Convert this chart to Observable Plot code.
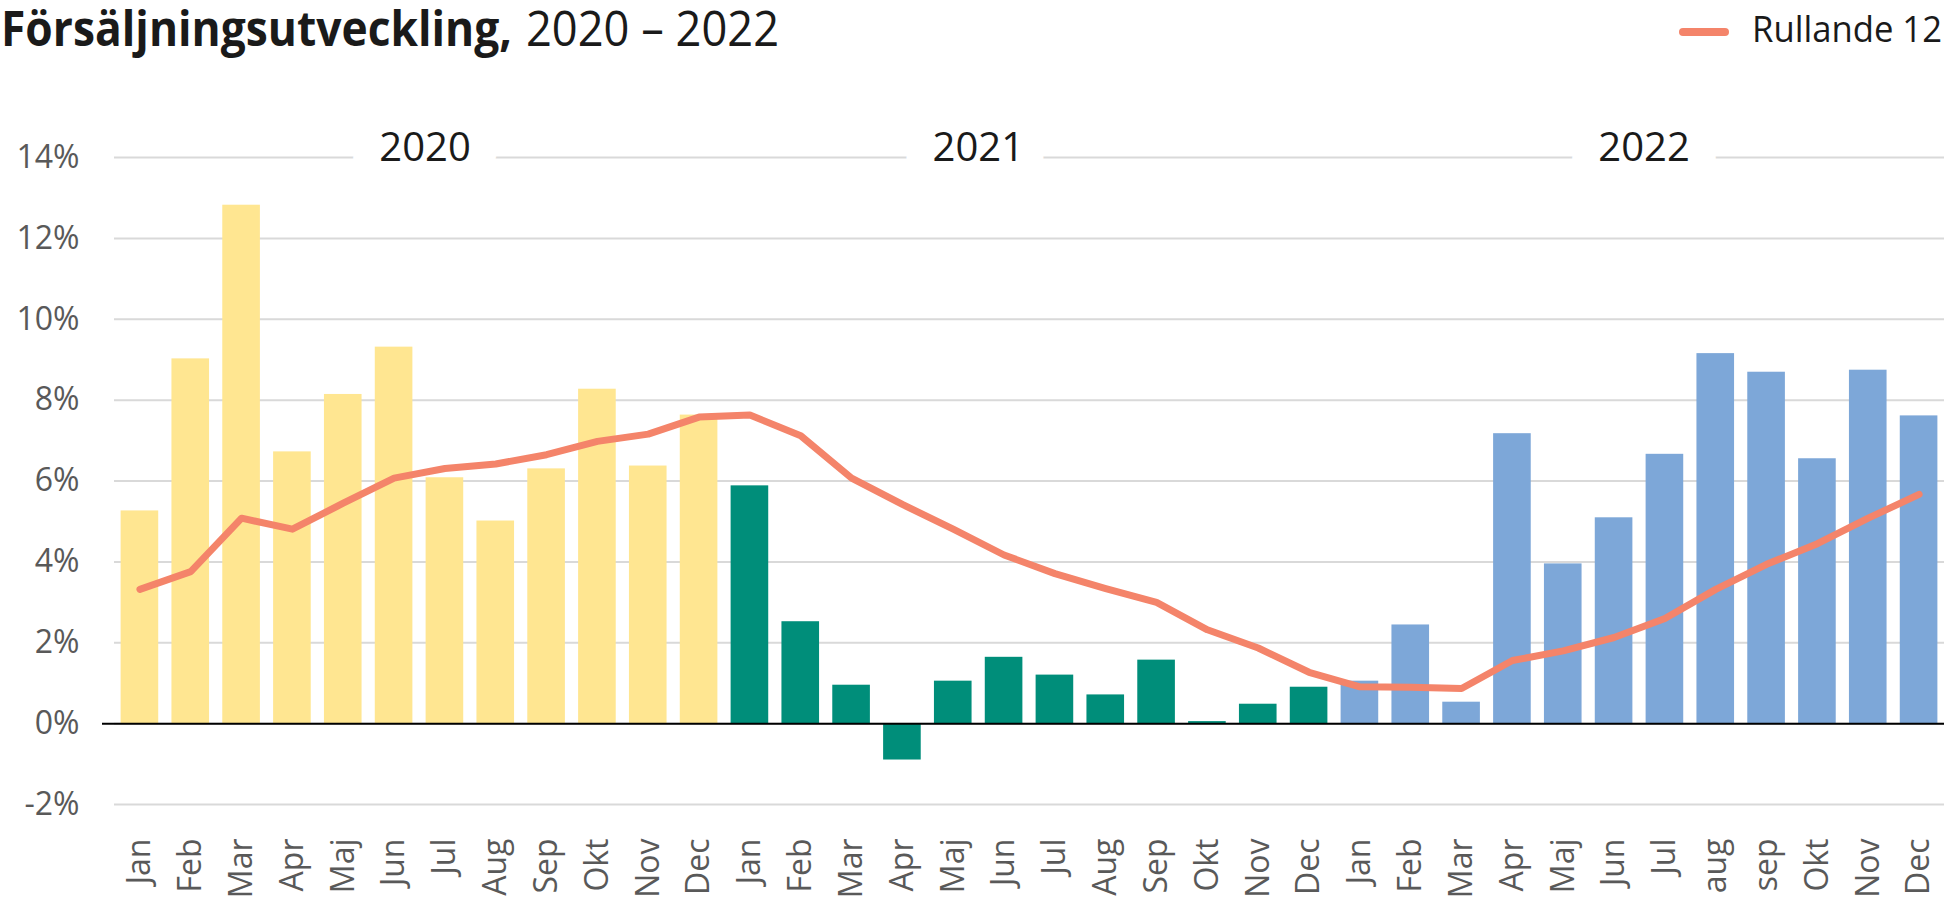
<!DOCTYPE html>
<html>
<head>
<meta charset="utf-8">
<script src="https://cdn.jsdelivr.net/npm/d3@7"></script>
<script src="https://cdn.jsdelivr.net/npm/@observablehq/plot@0.6"></script>
<style>
  html, body { margin: 0; padding: 0; background: #fff; overflow: hidden; }
  #wrap { position: relative; width: 1947px; height: 897px; font-family: "Open Sans", sans-serif; }
  #header { position: relative; height: 70px; width: 1947px; }
  .t { position: absolute; white-space: nowrap; transform-origin: 0 0; line-height: 1; }
  #tb { left: 1px; top: 3px; font-size: 49px; font-weight: 700; color: #1a1a1a; }
  #tr { left: 526px; top: 3px; font-size: 49px; font-weight: 400; color: #1a1a1a; }
  #sw { position: absolute; left: 1679px; top: 28px; width: 50px; height: 8px; border-radius: 4px; background: #F4846A; }
  #lt { left: 1752px; top: 11px; font-size: 36px; color: #1a1a1a; }
  #chart svg { display: block; }
</style>
</head>
<body>
<div id="wrap">
  <div id="header">
    <div class="t" id="tb">Försäljningsutveckling,</div>
    <div class="t" id="tr">2020 – 2022</div>
    <div id="sw"></div>
    <div class="t" id="lt">Rullande 12</div>
  </div>
  <div id="chart"></div>
</div>
<script>
// ---- Data ----
const years = ["2020", "2021", "2022"];
const months2020 = ["Jan","Feb","Mar","Apr","Maj","Jun","Jul","Aug","Sep","Okt","Nov","Dec"];
const months2021 = ["Jan","Feb","Mar","Apr","Maj","Jun","Jul","Aug","Sep","Okt","Nov","Dec"];
const months2022 = ["Jan","Feb","Mar","Apr","Maj","Jun","Jul","aug","sep","Okt","Nov","Dec"];
const bars2020 = [5.26, 9.02, 12.82, 6.72, 8.14, 9.31, 6.08, 5.01, 6.30, 8.27, 6.37, 7.63];
const bars2021 = [5.88, 2.52, 0.95, -0.90, 1.05, 1.64, 1.20, 0.71, 1.57, 0.05, 0.48, 0.90];
const bars2022 = [1.05, 2.44, 0.53, 7.17, 3.95, 5.09, 6.66, 9.15, 8.69, 6.55, 8.74, 7.61];
const rolling12 = [3.32, 3.76, 5.08, 4.81, 5.45, 6.07, 6.31, 6.42, 6.65, 6.98, 7.16, 7.58,
                   7.63, 7.12, 6.07, 5.42, 4.81, 4.17, 3.71, 3.34, 3.00, 2.32, 1.87, 1.27,
                   0.91, 0.90, 0.87, 1.56, 1.80, 2.13, 2.60, 3.32, 3.94, 4.45, 5.08, 5.67];
const yTicks = [-2, 0, 2, 4, 6, 8, 10, 12, 14];
const yearColors = ["#FFE691", "#008E7A", "#7DA7D8"];
const lineLabel = "Rullande 12";

// ---- Table ----
const monthsByYear = [months2020, months2021, months2022];
const barsByYear = [bars2020, bars2021, bars2022];
const data = [];
years.forEach((yr, yi) => {
  monthsByYear[yi].forEach((m, mi) => {
    data.push({key: yr + "-" + mi, month: m, year: yr, value: barsByYear[yi][mi], roll: rolling12[yi * 12 + mi]});
  });
});
const keys = data.map(d => d.key);
const labelOf = Object.fromEntries(data.map(d => [d.key, d.month]));

// year label layout (anchor month + pixel offset)
const yearLayout = [
  {year: "2020", key: "2020-5", dx: 31},
  {year: "2021", key: "2021-4", dx: 25},
  {year: "2022", key: "2022-5", dx: 30}
];

const font = '"Open Sans", sans-serif';
const chart = Plot.plot({
  width: 1947,
  height: 827,
  marginTop: 87,
  marginBottom: 93,
  marginLeft: 114,
  marginRight: 3,
  style: {fontFamily: font, background: "white", overflow: "visible"},
  x: {type: "band", domain: keys, paddingInner: 0.26, paddingOuter: 0.13, align: 0.5, round: false, label: null},
  y: {domain: [-2, 14], label: null},
  color: {domain: years, range: yearColors},
  marks: [
    Plot.gridY(yTicks, {stroke: "#D9D9D9", strokeOpacity: 1, strokeWidth: 2}),
    Plot.barY(data, {x: "key", y: "value", fill: "year"}),
    Plot.ruleY([0], {stroke: "#000", strokeWidth: 2, insetLeft: -12}),
    Plot.line(data, {x: "key", y: "roll", stroke: "#F4846A", strokeWidth: 7, strokeLinecap: "round", strokeLinejoin: "round"}),
    ...yearLayout.map(l => Plot.text([l.year], {
      x: () => l.key, frameAnchor: "top", text: d => d, dx: l.dx, dy: -9,
      lineAnchor: "middle", fontSize: 40, fill: "#1a1a1a",
      stroke: "white", strokeWidth: 56, strokeLinejoin: "round", paintOrder: "stroke"
    })),
    Plot.axisY(yTicks, {tickSize: 0, tickPadding: 35, fontSize: 32, fill: "#595959", tickFormat: d => d + "%", label: null}),
    Plot.axisX({tickSize: 0, tickPadding: 34, tickRotate: -90, textAnchor: "end", fontSize: 32, fill: "#595959", tickFormat: k => labelOf[k], label: null})
  ]
});
document.getElementById("chart").appendChild(chart);

// fit header texts to their measured widths in the reference
function fit(id, target) {
  const el = document.getElementById(id);
  el.style.transform = "none";
  const w = el.getBoundingClientRect().width;
  if (w > 0) el.style.transform = `scaleX(${target / w})`;
}
function fitAll() {
  fit("tb", 511);
  fit("tr", 253);
  fit("lt", 190);
}
fitAll();
if (document.fonts && document.fonts.ready) document.fonts.ready.then(fitAll);
</script>
</body>
</html>
